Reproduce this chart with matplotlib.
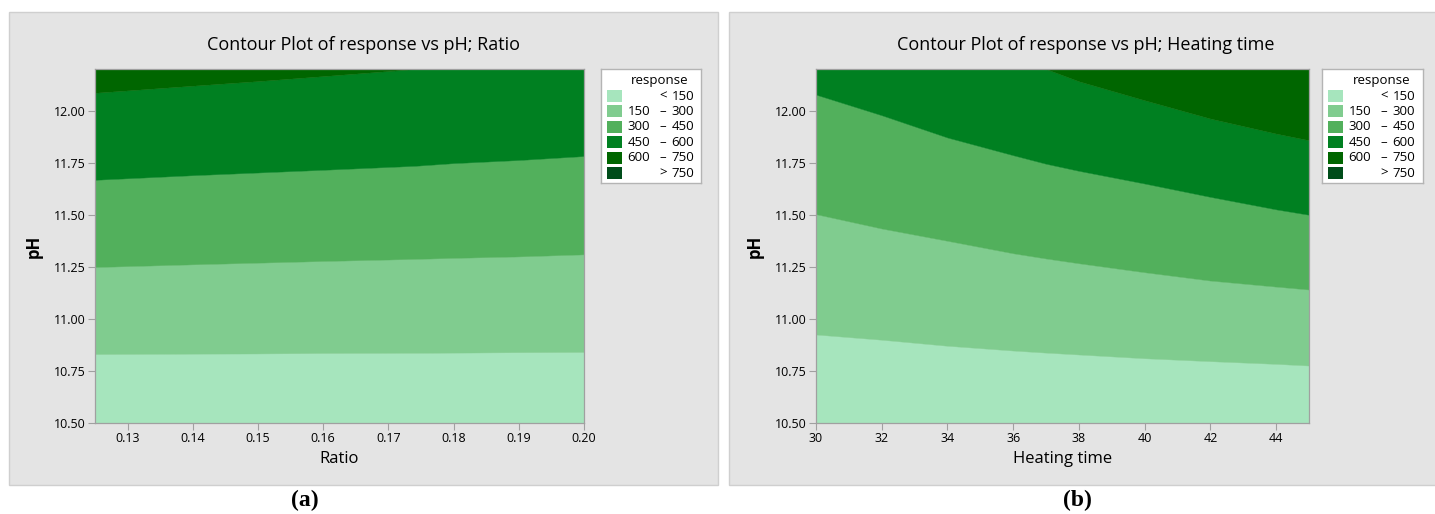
import matplotlib

matplotlib.use("Agg")
import matplotlib.pyplot as plt
from matplotlib.patches import Rectangle
from matplotlib.ticker import FormatStrFormatter

# Contour levels of the response and the band colours (lowest band first)
LEVELS = [150, 300, 450, 600, 750]
BAND_COLORS = ["#A6E5BD", "#80CC8F", "#52B05C", "#008021", "#006600", "#004D1A"]

PH_MIN, PH_MAX = 10.50, 12.20
PH_TICKS = [10.50, 10.75, 11.00, 11.25, 11.50, 11.75, 12.00]

# Panel (a): pH where the response crosses each level, along Ratio
ratio = [0.125, 0.14, 0.15, 0.16, 0.174, 0.18, 0.19, 0.20]
ratio_ph_150 = [10.831, 10.833, 10.834, 10.836, 10.837, 10.838, 10.840, 10.841]
ratio_ph_300 = [11.249, 11.262, 11.270, 11.278, 11.288, 11.293, 11.300, 11.310]
ratio_ph_450 = [11.668, 11.690, 11.703, 11.716, 11.735, 11.748, 11.763, 11.782]
ratio_ph_600 = [12.086, 12.120, 12.142, 12.166, 12.200, 12.200, 12.200, 12.200]
ratio_ticks = [0.13, 0.14, 0.15, 0.16, 0.17, 0.18, 0.19, 0.20]

# Panel (b): pH where the response crosses each level, along Heating time
heating_time = [30, 32, 34, 36, 37, 38, 40, 42, 44, 45]
time_ph_150 = [10.925, 10.900, 10.871, 10.848, 10.838, 10.829, 10.811, 10.797, 10.784, 10.776]
time_ph_300 = [11.503, 11.434, 11.375, 11.315, 11.290, 11.267, 11.224, 11.184, 11.155, 11.141]
time_ph_450 = [12.077, 11.978, 11.871, 11.786, 11.745, 11.711, 11.650, 11.586, 11.526, 11.500]
time_ph_600 = [12.200, 12.200, 12.200, 12.200, 12.200, 12.141, 12.050, 11.962, 11.890, 11.858]
time_ticks = [30, 32, 34, 36, 38, 40, 42, 44]

W, H = 1435, 514
PANEL_GRAY = "#E4E4E4"
PANEL_EDGE = "#CFCFCF"
AXIS_GRAY = "#A0A0A0"
TEXT = "#000000"

plt.rcParams["font.family"] = ["Open Sans", "DejaVu Sans"]


def px_box(x0, y0, x1, y1):
    """Pixel box (top-left origin) -> figure fraction [left, bottom, width, height]."""
    return [x0 / W, 1 - y1 / H, (x1 - x0) / W, (y1 - y0) / H]


def draw_panel_background(fig, x0, y0, x1, y1):
    left, bottom, width, height = px_box(x0, y0, x1, y1)
    fig.patches.append(
        Rectangle((left, bottom), width, height, transform=fig.transFigure,
                  facecolor=PANEL_GRAY, edgecolor=PANEL_EDGE, linewidth=1.0, zorder=-5)
    )


def draw_contour(ax, x, boundaries, xlabel, xticks, xfmt):
    edges = [[PH_MIN] * len(x)] + boundaries + [[PH_MAX] * len(x)]
    for lower, upper, color in zip(edges[:-1], edges[1:], BAND_COLORS):
        ax.fill_between(x, lower, upper, facecolor=color, edgecolor=color, linewidth=0.3)
    ax.set_xlim(x[0], x[-1])
    ax.set_ylim(PH_MIN, PH_MAX)
    ax.set_xticks(xticks)
    ax.set_yticks(PH_TICKS)
    ax.xaxis.set_major_formatter(FormatStrFormatter(xfmt))
    ax.yaxis.set_major_formatter(FormatStrFormatter("%.2f"))
    ax.tick_params(direction="out", length=5, width=0.8, color=AXIS_GRAY,
                   labelcolor=TEXT, labelsize=9, pad=1.5)
    for spine in ax.spines.values():
        spine.set_color(AXIS_GRAY)
        spine.set_linewidth(0.9)
    ax.set_xlabel(xlabel, fontsize=12, color=TEXT, labelpad=4)
    ax.set_ylabel("pH", fontsize=12, fontweight="bold", color=TEXT, labelpad=8)


def draw_legend(fig, x0, y0, x1, y1):
    lax = fig.add_axes(px_box(x0, y0, x1, y1))
    width, height = x1 - x0, y1 - y0
    lax.set_xlim(0, width)
    lax.set_ylim(height, 0)
    lax.set_xticks([])
    lax.set_yticks([])
    lax.set_facecolor("white")
    for spine in lax.spines.values():
        spine.set_color("#B4B4B4")
        spine.set_linewidth(1.0)
    lax.text(width * 0.59, 11, "response", ha="center", va="center", fontsize=9.5, color=TEXT)
    bounds = [None] + LEVELS + [None]
    for i, color in enumerate(BAND_COLORS):
        yc = 27 + i * 15.4
        lax.add_patch(Rectangle((6, yc - 6), 15, 12, facecolor=color, edgecolor="none"))
        lo, hi = bounds[i], bounds[i + 1]
        if lo is None:
            left, sign, right = "", "<", str(hi)
        elif hi is None:
            left, sign, right = "", ">", str(lo)
        else:
            left, sign, right = str(lo), "\u2013", str(hi)
        lax.text(49, yc, left, ha="right", va="center", fontsize=9.5, color=TEXT)
        lax.text(62, yc, sign, ha="center", va="center", fontsize=9.5, color=TEXT)
        lax.text(93, yc, right, ha="right", va="center", fontsize=9.5, color=TEXT)


fig = plt.figure(figsize=(W / 100, H / 100), dpi=100)
fig.patch.set_facecolor("white")

# (a) response vs pH and Ratio
draw_panel_background(fig, 9, 12, 718, 485)
ax_a = fig.add_axes(px_box(95, 69, 584, 423))
draw_contour(ax_a, ratio, [ratio_ph_150, ratio_ph_300, ratio_ph_450, ratio_ph_600],
             "Ratio", ratio_ticks, "%.2f")
fig.text(363.5 / W, 1 - 45 / H, "Contour Plot of response vs pH; Ratio",
         ha="center", va="center", fontsize=13, color=TEXT)
draw_legend(fig, 601, 69, 701, 183)

# (b) response vs pH and Heating time
draw_panel_background(fig, 729, 12, 1440, 485)
ax_b = fig.add_axes(px_box(816, 69, 1309, 423))
draw_contour(ax_b, heating_time, [time_ph_150, time_ph_300, time_ph_450, time_ph_600],
             "Heating time", time_ticks, "%d")
fig.text(1086 / W, 1 - 45 / H, "Contour Plot of response vs pH; Heating time",
         ha="center", va="center", fontsize=13, color=TEXT)
draw_legend(fig, 1322, 69, 1423, 183)

# panel captions
for label, xc in (("(a)", 305), ("(b)", 1077)):
    fig.text(xc / W, 1 - 500 / H, label, ha="center", va="center", fontsize=17,
             fontweight="bold", family=["Liberation Serif", "DejaVu Serif"], color="black")

fig.savefig("out.png", dpi=100)
